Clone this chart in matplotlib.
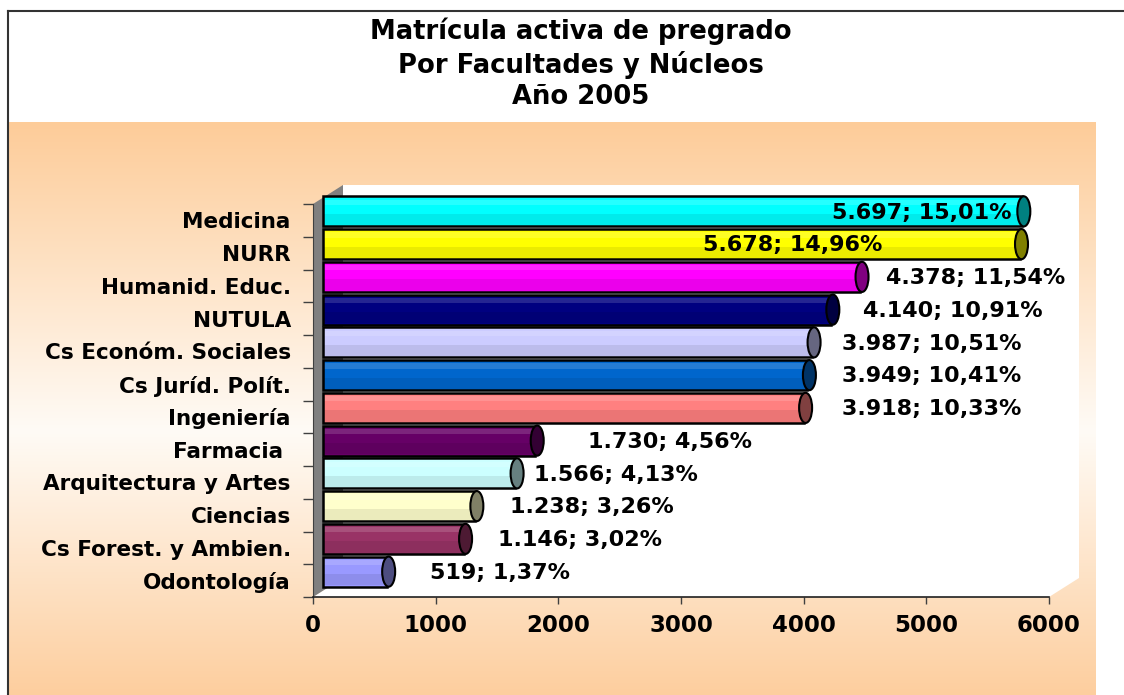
import numpy as np
import matplotlib
matplotlib.use('Agg')
import matplotlib.pyplot as plt
from matplotlib.patches import Polygon, Ellipse, Rectangle
from matplotlib.lines import Line2D
from matplotlib.transforms import ScaledTranslation, IdentityTransform
from matplotlib.colors import to_rgb

# data, top to bottom as read on the chart
categories = ['Medicina', 'NURR', 'Humanid. Educ.', 'NUTULA',
              'Cs Económ. Sociales', 'Cs Juríd. Polít.', 'Ingeniería',
              'Farmacia ', 'Arquitectura y Artes', 'Ciencias',
              'Cs Forest. y Ambien.', 'Odontología']
values = [5697, 5678, 4378, 4140, 3987, 3949, 3918, 1730, 1566, 1238, 1146, 519]
percents = [15.01, 14.96, 11.54, 10.91, 10.51, 10.41, 10.33, 4.56, 4.13,
            3.26, 3.02, 1.37]
colors = ['#00FFFF', '#FFFF00', '#FF00FF', '#000080', '#CCCCFF', '#0066CC',
          '#FF8080', '#660066', '#CCFFFF', '#FFFFCC', '#993366', '#9999FF']
x_ticks = [0, 1000, 2000, 3000, 4000, 5000, 6000]

# where the value labels sit (x in axis units)
label_x = [5609, 3098, 4590, 4402, 4231, 4231, 4231, 2160, 1720, 1524, 1427, 872]
label_ha = ['right'] + ['left'] * 11

plt.rcParams['font.family'] = ['DejaVu Sans']
W, H = 1124, 695
fig = plt.figure(figsize=(W / 100, H / 100), dpi=100)


def fig_box(x0, y0, x1, y1):
    return [x0 / W, 1 - y1 / H, (x1 - x0) / W, (y1 - y0) / H]


# peach gradient backdrop
bg = fig.add_axes(fig_box(9, 122, 1096, 695), zorder=0)
t = np.linspace(0, 1, 1200)
stops = [0, 0.54, 1]
top, mid, bot = (253, 204, 153), (255, 251, 246), (253, 206, 158)
grad = np.stack([np.interp(t, stops, [top[c], mid[c], bot[c]]) for c in range(3)],
                axis=-1) / 255
bg.imshow(grad[:, None, :], aspect='auto', extent=[0, 1, 0, 1],
          interpolation='bilinear')
bg.axis('off')

# frame lines
fig.add_artist(Line2D([8 / W, 1], [1 - 11 / H] * 2, color='#333333', lw=1.5))
fig.add_artist(Line2D([8 / W] * 2, [1 - 11 / H, 0], color='#333333', lw=1.5))

fig.text(581 / W, 1 - 64 / H,
         'Matrícula activa de pregrado\nPor Facultades y Núcleos\nAño 2005',
         ha='center', va='center', fontsize=18.6, fontweight='bold',
         linespacing=1.27)

n = len(categories)
ax = fig.add_axes(fig_box(313, 204, 1049, 597), zorder=1)
ax.set_facecolor('none')
ax.set_xlim(0, 6000)
ax.set_ylim(-0.5, n - 0.5)


def depth(dx, dy):
    return ax.transData + ScaledTranslation(dx / fig.dpi, dy / fig.dpi,
                                            fig.dpi_scale_trans)


wall_tr = depth(30, 19)
bar_tr = depth(10, 9)

# back wall, floor, left wall
ax.add_patch(Rectangle((0, -0.5), 6000, n, transform=wall_tr, facecolor='white',
                       edgecolor='none', zorder=0.5, clip_on=False))
floor_pts = [(0, -0.5), (6000, -0.5)]
front = ax.transData.transform(floor_pts)
back = wall_tr.transform(floor_pts)
ax.add_patch(Polygon(np.vstack([front, back[::-1]]), transform=IdentityTransform(),
                     facecolor='white', edgecolor='none', zorder=0.5, clip_on=False))
side_pts = [(0, -0.5), (0, n - 0.5)]
front = ax.transData.transform(side_pts)
back = wall_tr.transform(side_pts)
ax.add_patch(Polygon(np.vstack([front, back[::-1]]), transform=IdentityTransform(),
                     facecolor='#808080', edgecolor='none', zorder=0.6, clip_on=False))

# bars
y = np.arange(n)[::-1]
bh = 0.92
ax.barh(y, values, height=bh, color=colors, linewidth=0, transform=bar_tr,
        zorder=2, clip_on=False)
ax.barh(y + 0.28, values, height=0.16, color='white', alpha=0.15, linewidth=0,
        transform=bar_tr, zorder=2.1, clip_on=False)
ax.barh(y - 0.25, values, height=0.34, color='black', alpha=0.08, linewidth=0,
        transform=bar_tr, zorder=2.1, clip_on=False)
ax.barh(y, values, height=bh, fill=False, edgecolor='black', linewidth=1.8,
        transform=bar_tr, zorder=2.2, clip_on=False)

units_per_px = 6000 / ax.bbox.width
for yi, v, c in zip(y, values, colors):
    dark = tuple(0.5 * ch for ch in to_rgb(c))
    ax.add_patch(Ellipse((v + 2 * units_per_px, yi), 13 * units_per_px, bh,
                         facecolor=dark, edgecolor='black', lw=1.5,
                         transform=bar_tr, zorder=2.3, clip_on=False))

for yi, v, p, lx, ha in zip(y, values, percents, label_x, label_ha):
    txt = f'{v:,}'.replace(',', '.') + '; ' + f'{p:.2f}'.replace('.', ',') + '%'
    ax.text(lx, yi - 0.04, txt, transform=bar_tr, ha=ha, va='center',
            fontsize=16, fontweight='bold', zorder=4)

# axes styling
ax.set_yticks(y)
ax.set_yticklabels(categories, fontsize=15.5, fontweight='bold')
ax.set_yticks(np.arange(-0.5, n), minor=True)
ax.tick_params(axis='y', which='major', length=0, pad=16)
ax.tick_params(axis='y', which='minor', length=7, width=1, color='#404040')
ax.set_xticks(x_ticks)
ax.set_xticklabels([str(v) for v in x_ticks], fontsize=16.5, fontweight='bold')
ax.tick_params(axis='x', length=5, width=1, color='#404040', pad=7)
for s in ['top', 'right']:
    ax.spines[s].set_visible(False)
ax.spines['left'].set_color('#404040')
ax.spines['bottom'].set_color('#202020')
ax.spines['bottom'].set_linewidth(1.2)

fig.savefig('out.png', dpi=100)
